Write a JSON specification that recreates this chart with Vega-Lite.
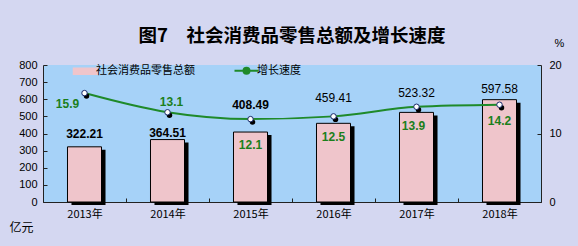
{
  "$schema": "https://vega.github.io/schema/vega-lite/v6.json",
  "autosize": "none",
  "width": 498,
  "height": 137,
  "padding": {"left": 43, "top": 65, "right": 37, "bottom": 44},
  "background": "#d4d7f1",
  "config": {
    "view": {"fill": "#a6d2f8", "stroke": null},
    "font": "Liberation Sans",
    "axis": {"labelFont": "Liberation Sans", "labelFontSize": 11, "labelColor": "#000", "domainColor": "#222", "tickColor": "#222", "grid": false}
  },
  "title": {
    "text": "图7　社会消费品零售总额及增长速度",
    "font": "Noto Sans CJK SC",
    "fontSize": 18.5,
    "fontWeight": "bold",
    "color": "#000",
    "anchor": "middle",
    "offset": -8
  },
  "data": {
    "values": [
      {"year": "2013年", "sales": 322.21, "growth": 15.9},
      {"year": "2014年", "sales": 364.51, "growth": 13.1},
      {"year": "2015年", "sales": 408.49, "growth": 12.1},
      {"year": "2016年", "sales": 459.41, "growth": 12.5},
      {"year": "2017年", "sales": 523.32, "growth": 13.9},
      {"year": "2018年", "sales": 597.58, "growth": 14.2}
    ]
  },
  "encoding": {
    "x": {
      "field": "year", "type": "nominal", "sort": null,
      "scale": {"paddingInner": 0, "paddingOuter": 0},
      "axis": {"title": null, "labelAngle": 0, "labelPadding": 10, "tickBand": "extent", "tickSize": -4, "labelFont": "Noto Sans CJK SC", "labelFontSize": 11}
    }
  },
  "layer": [
    {
      "encoding": {
        "y": {
          "field": "sales", "type": "quantitative",
          "scale": {"domain": [0, 800], "nice": false},
          "axis": {
            "values": [0, 100, 200, 300, 400, 500, 600, 700, 800],
            "tickSize": -4, "labelPadding": 10,
            "title": "亿元", "titleAngle": 0, "titleFont": "Noto Sans CJK SC", "titleFontSize": 12, "titleFontWeight": "normal",
            "titleX": -22, "titleY": 162, "titleAlign": "center", "titleBaseline": "middle"
          }
        }
      },
      "layer": [
        {"mark": {"type": "bar", "color": "#000", "width": {"band": 0.41}, "xOffset": 4, "yOffset": 3}},
        {
          "mark": {"type": "bar", "stroke": "#000", "strokeWidth": 1, "width": {"band": 0.41}},
          "encoding": {
            "color": {
              "datum": "社会消费品零售总额",
              "scale": {"domain": ["社会消费品零售总额", "增长速度"], "range": ["#efc5cb", "#1f8a2a"]},
              "legend": {
                "title": null, "orient": "none", "direction": "horizontal",
                "legendX": 37, "legendY": 0, "padding": 0,
                "labelFont": "Noto Sans CJK SC", "labelFontSize": 11, "labelColor": "#000",
                "labelOffset": 5, "columnPadding": 35,
                "symbolSize": 576, "symbolStrokeColor": "#000", "symbolStrokeWidth": 1.5,
                "encode": {
                  "symbols": {
                    "update": {
                      "shape": {"signal": "datum.value === '增长速度' ? 'M-1,0H-0.25M0.25,0H1M0.25,0A0.25,0.25,0,1,1,-0.25,0A0.25,0.25,0,1,1,0.25,0' : 'M-1,-0.25H1V0.25H-1Z'"},
                      "fill": {"signal": "datum.value === '增长速度' ? '#ffffff' : '#efc5cb'"},
                      "stroke": {"signal": "datum.value === '增长速度' ? '#1f8a2a' : '#000000'"},
                      "strokeWidth": {"signal": "datum.value === '增长速度' ? 2 : 1.5"},
                      "size": {"value": 576},
                      "opacity": {"value": 1},
                      "fillOpacity": {"value": 1},
                      "strokeOpacity": {"value": 1}
                    }
                  }
                }
              }
            }
          }
        },
        {
          "mark": {
            "type": "text", "fontSize": 12, "color": "#000", "baseline": "middle",
            "fontWeight": {"expr": "datum.sales < 420 ? 'bold' : 'normal'"},
            "dy": {"expr": "datum.year == '2013年' ? -13 : datum.year == '2014年' ? -7 : datum.year == '2015年' ? -27 : datum.year == '2016年' ? -25 : datum.year == '2017年' ? -19 : -11"}
          },
          "encoding": {"text": {"field": "sales", "type": "quantitative", "format": ".2f"}}
        }
      ]
    },
    {
      "encoding": {
        "y": {
          "field": "growth", "type": "quantitative",
          "scale": {"domain": [0, 20], "nice": false},
          "axis": {
            "orient": "right", "values": [0, 10, 20],
            "tickSize": -4, "labelPadding": 12,
            "title": "%", "titleAngle": 0, "titleFont": "Liberation Sans", "titleFontSize": 11, "titleFontWeight": "normal",
            "titleX": 18, "titleY": -22, "titleAlign": "center", "titleBaseline": "middle"
          }
        }
      },
      "layer": [
        {
          "mark": {"type": "line", "interpolate": "monotone", "strokeWidth": 2},
          "encoding": {
            "color": {
              "datum": "增长速度",
              "legend": {
                "title": null, "orient": "none", "direction": "horizontal",
                "legendX": 37, "legendY": 0, "padding": 0,
                "labelFont": "Noto Sans CJK SC", "labelFontSize": 11, "labelColor": "#000",
                "labelOffset": 5, "columnPadding": 35,
                "symbolSize": 576, "symbolStrokeColor": "#000", "symbolStrokeWidth": 1.5,
                "encode": {
                  "symbols": {
                    "update": {
                      "shape": {"signal": "datum.value === '增长速度' ? 'M-1,0H-0.25M0.25,0H1M0.25,0A0.25,0.25,0,1,1,-0.25,0A0.25,0.25,0,1,1,0.25,0' : 'M-1,-0.25H1V0.25H-1Z'"},
                      "fill": {"signal": "datum.value === '增长速度' ? '#ffffff' : '#efc5cb'"},
                      "stroke": {"signal": "datum.value === '增长速度' ? '#1f8a2a' : '#000000'"},
                      "strokeWidth": {"signal": "datum.value === '增长速度' ? 2 : 1.5"},
                      "size": {"value": 576},
                      "opacity": {"value": 1},
                      "fillOpacity": {"value": 1},
                      "strokeOpacity": {"value": 1}
                    }
                  }
                }
              }
            }
          }
        },
        {"mark": {"type": "point", "filled": true, "color": "#000", "size": 30, "xOffset": 2, "yOffset": 3, "opacity": 1}},
        {"mark": {"type": "point", "filled": true, "fill": "#ffffff", "stroke": "#1a2a6a", "strokeWidth": 1, "size": 30, "opacity": 1}},
        {
          "mark": {
            "type": "text", "fontSize": 12, "fontWeight": "bold", "color": "#1b7f1b", "baseline": "middle",
            "dx": {"expr": "datum.year == '2013年' ? -17 : datum.year == '2014年' ? 4 : datum.year == '2017年' ? -3 : 0"},
            "dy": {"expr": "datum.year == '2013年' ? 11 : datum.year == '2014年' ? -10 : datum.year == '2015年' ? 26 : datum.year == '2016年' ? 21 : datum.year == '2017年' ? 19 : 16"}
          },
          "encoding": {"text": {"field": "growth", "type": "quantitative", "format": ".1f"}}
        }
      ]
    }
  ],
  "resolve": {"scale": {"y": "independent"}}
}
